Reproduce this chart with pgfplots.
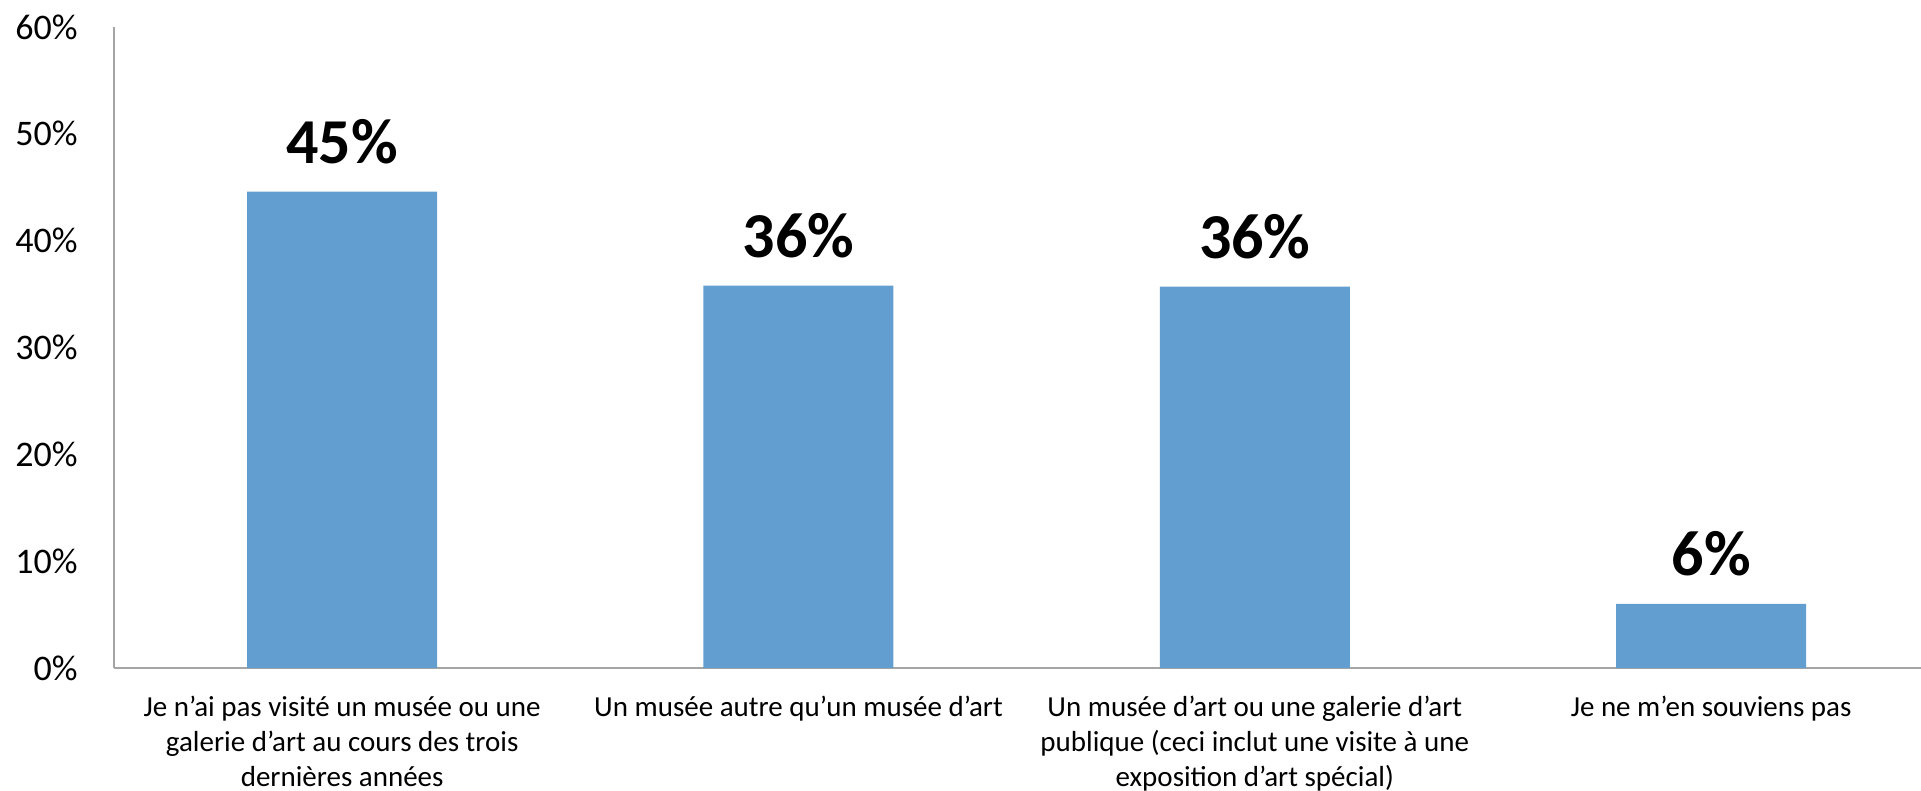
\documentclass[border=0pt]{standalone}
\usepackage{fontspec}
\setmainfont{Carlito}
\usepackage{pgfplots}
\pgfplotsset{compat=1.18}
\definecolor{barblue}{RGB}{98,158,208}
\definecolor{axisgray}{RGB}{165,165,165}

\begin{document}
\begin{tikzpicture}
\begin{axis}[
  name=ax,
  scale only axis,
  width=903.5bp, height=320.5bp,
  ybar, bar width=95bp,
  xmin=-0.5, xmax=3.46,
  ymin=0, ymax=60,
  ytick={0,10,...,60},
  yticklabel={\pgfmathprintnumber{\tick}\%},
  /pgf/number format/assume math mode=true,
  yticklabel style={font=\fontsize{18bp}{21bp}\selectfont, inner sep=0pt, xshift=-18bp},
  xtick=data,
  xticklabels={
    {Je n’ai pas visité un musée ou une\\galerie d’art au cours des trois\\dernières années},
    {Un musée autre qu’un musée d’art},
    {Un musée d’art ou une galerie d’art\\publique (ceci inclut une visite à une\\exposition d’art spécial)},
    {Je ne m’en souviens pas}},
  xticklabel style={font=\fontsize{14.5bp}{17.3bp}\selectfont, align=center,
    inner sep=0pt, anchor=north, yshift=-14bp},
  axis x line=bottom, axis y line=left,
  axis line style={axisgray, line width=1bp, -},
  major tick length=0pt,
  nodes near coords={\pgfmathprintnumber[fixed,precision=0]{\pgfplotspointmeta}\%},
  nodes near coords style={font=\bfseries\fontsize{32bp}{36bp}\selectfont,
    inner sep=0pt, anchor=south, yshift=13.5bp, text=black},
  clip=false,
]
\addplot[fill=barblue, draw=none] coordinates {
  (0,44.6)
  (1,35.8)
  (2,35.7)
  (3,6.0)
};
\end{axis}
\pgfresetboundingbox
\path[use as bounding box] ([xshift=-57bp,yshift=13.5bp]ax.north west)
  rectangle ([yshift=-61.5bp]ax.south east);
\end{tikzpicture}
\end{document}
